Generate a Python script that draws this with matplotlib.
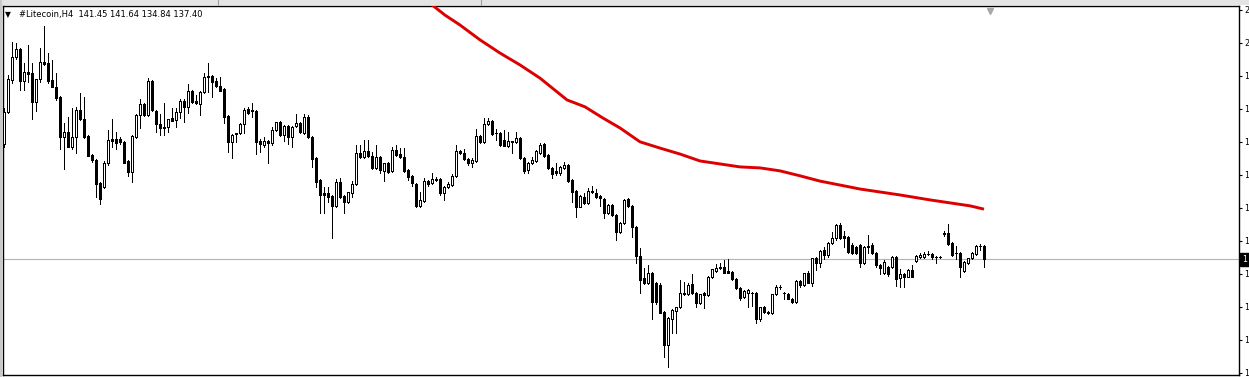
import matplotlib
matplotlib.use("Agg")
import matplotlib.pyplot as plt
import numpy as np
from matplotlib.patches import Rectangle

# H4 candles (oldest first)
opens = [
    172.2, 182.0, 191.6, 198.5, 200.9, 191.4, 194.0, 193.7, 185.1, 191.8,
    197.0, 196.7, 191.6, 189.4, 186.4, 174.3, 175.8, 171.4, 174.5, 182.5,
    179.8, 174.6, 168.9, 167.4, 160.3, 159.3, 166.6, 173.8, 173.8, 173.9,
    172.8, 167.0, 163.9, 174.5, 181.0, 184.4, 181.0, 191.3, 182.3, 178.3,
    177.5, 177.3, 180.0, 179.5, 182.0, 185.4, 183.4, 188.3, 185.3, 184.4,
    188.1, 192.4, 192.8, 191.4, 189.8, 188.8, 180.7, 172.9, 175.2, 175.5,
    178.3, 182.7,
    182.4, 182.3, 173.0, 171.9, 173.2, 172.4, 176.5, 178.8, 175.0, 177.7,
    174.3, 177.7, 178.7, 175.7, 180.5, 174.3, 167.9, 161.3, 157.5, 157.3,
    156.5, 153.5, 160.6, 156.5, 154.8, 157.3, 160.1, 169.4, 168.4, 170.1,
    168.6, 164.9, 168.4, 164.2, 166.4, 164.2, 170.4, 169.2, 168.2, 164.4,
    162.5, 160.1, 153.5, 155.1, 161.0, 160.3, 161.6, 161.6, 157.3, 159.1,
    159.8, 162.5, 170.2, 169.6, 167.8, 166.6, 167.2, 174.7, 172.7, 178.3,
    179.3, 175.7,
    175.5, 173.5, 171.6, 173.0, 172.7, 174.0, 167.9, 164.4, 166.6, 167.2,
    169.6, 172.2, 168.9, 165.1, 164.1, 163.4, 164.9, 165.9, 161.3, 158.1,
    153.3, 156.3, 154.3, 157.9, 157.5, 156.5, 155.6, 151.2, 153.8, 150.7,
    145.7, 148.4, 155.5, 153.5, 147.2, 138.3, 131.5, 130.2, 133.1, 130.0,
    129.5, 121.4, 111.3, 119.1, 121.7, 122.7, 127.2, 126.7, 129.7, 127.2,
    124.2, 127.0, 126.5, 132.0, 133.9, 135.1, 134.9, 133.9, 133.6, 131.3,
    128.5, 125.8, 127.2,
    127.0, 127.0, 119.1, 122.9, 121.4, 120.9, 126.7, 128.8, 127.1, 126.7,
    125.3, 124.3, 130.7, 129.5, 133.3, 130.2, 137.6, 136.1, 140.1, 138.6,
    142.3, 143.7, 147.7, 144.4, 144.2, 141.6, 141.1, 141.6, 136.1, 141.1,
    141.6, 139.3, 135.6, 133.1, 135.1, 135.1, 138.1, 131.5, 132.8, 132.0,
    134.1, 136.8, 137.9, 137.9, 138.9, 138.8, 138.1, 138.1, 145.2, 145.2,
    142.3, 139.3, 139.1, 133.8, 136.3, 137.6, 138.9, 141.4, 141.45,
]
highs = [
    183.1, 193.2, 203.3, 202.8, 201.3, 196.7, 202.2, 196.7, 191.9, 201.2,
    208.0, 199.7, 197.7, 193.7, 186.8, 178.5, 180.3, 183.0, 183.6, 187.8,
    186.6, 175.0, 169.2, 167.7, 160.6, 167.0, 176.5, 179.7, 176.0, 174.3,
    173.2, 167.3, 175.0, 181.3, 185.8, 184.8, 192.1, 191.7, 182.6, 181.2,
    184.6, 179.9, 183.0, 183.0, 185.8, 185.8, 190.4, 188.6, 187.1, 188.4,
    193.7, 196.9, 193.1, 192.1, 192.6, 189.2, 181.0, 175.3, 175.6, 178.6,
    183.0, 183.4,
    184.6, 182.6, 173.7, 174.3, 173.5, 177.3, 179.0, 179.1, 178.0, 178.0,
    177.8, 181.3, 179.0, 181.3, 181.0, 174.6, 168.2, 161.6, 159.1, 159.1,
    156.8, 161.5, 161.8, 156.8, 157.8, 161.0, 171.9, 171.9, 173.5, 173.5,
    169.9, 171.9, 168.7, 166.6, 166.7, 171.4, 171.9, 170.9, 170.9, 164.7,
    162.8, 160.4, 157.8, 161.8, 161.3, 163.6, 162.3, 161.9, 159.6, 160.8,
    163.2, 171.9, 170.5, 170.7, 168.1, 167.9, 176.7, 175.0, 180.0, 180.0,
    179.6, 176.7,
    175.8, 176.5, 176.0, 173.3, 176.0, 174.3, 168.2, 166.8, 168.4, 170.5,
    172.4, 172.5, 169.2, 165.4, 166.4, 165.6, 166.9, 166.2, 161.6, 158.4,
    156.8, 157.3, 158.8, 159.5, 158.5, 156.8, 155.9, 154.0, 154.1, 151.0,
    148.7, 155.5, 155.8, 153.8, 147.5, 140.6, 134.6, 135.6, 133.4, 130.5,
    130.2, 121.7, 119.7, 122.2, 122.9, 131.0, 130.5, 130.2, 132.9, 127.5,
    126.9, 127.3, 132.2, 134.5, 135.9, 136.3, 137.1, 137.3, 133.9, 131.6,
    128.8, 128.1, 128.3,
    127.5, 127.3, 122.9, 123.2, 121.7, 126.9, 129.5, 129.5, 127.4, 127.0,
    125.6, 130.9, 131.0, 133.3, 133.9, 137.8, 137.9, 140.2, 141.1, 142.6,
    145.5, 147.9, 148.2, 146.0, 144.5, 142.1, 141.4, 141.9, 141.4, 144.7,
    142.1, 139.6, 135.9, 137.1, 135.4, 138.3, 138.4, 134.3, 133.1, 134.3,
    135.6, 138.5, 139.3, 139.6, 139.9, 139.3, 138.4, 138.4, 145.9, 148.0,
    142.6, 141.3, 139.4, 136.8, 137.8, 139.4, 141.6, 141.9, 141.64,
]
lows = [
    171.4, 181.5, 190.8, 198.0, 188.6, 188.6, 191.1, 179.7, 182.3, 191.0,
    196.2, 190.6, 189.4, 185.6, 170.6, 164.6, 171.2, 170.8, 169.4, 179.6,
    174.2, 168.5, 166.9, 156.3, 154.0, 158.8, 166.0, 171.4, 170.6, 172.2,
    166.4, 162.5, 160.8, 174.0, 177.0, 180.7, 180.6, 182.3, 176.0, 175.0,
    175.0, 176.0, 179.2, 177.3, 180.0, 179.0, 181.7, 184.8, 184.3, 181.0,
    187.6, 188.1, 186.6, 189.6, 188.2, 178.5, 169.9, 168.1, 172.7, 175.2,
    175.5, 181.3,
    180.5, 169.2, 169.9, 171.4, 166.6, 172.0, 176.2, 174.7, 173.2, 172.2,
    171.4, 177.4, 175.7, 175.4, 174.0, 165.2, 159.1, 151.4, 151.4, 154.8,
    143.9, 153.2, 156.0, 151.4, 154.5, 156.3, 159.8, 168.0, 168.1, 168.2,
    164.6, 164.6, 163.6, 161.1, 163.6, 163.9, 168.6, 168.0, 163.9, 161.3,
    159.5, 153.0, 153.2, 154.8, 159.5, 160.0, 160.9, 156.8, 155.3, 158.8,
    159.5, 162.2, 169.1, 167.3, 165.9, 165.4, 166.9, 172.4, 172.4, 178.0,
    175.0, 173.5,
    171.6, 171.5, 171.3, 169.4, 172.4, 167.6, 163.4, 163.4, 166.3, 166.9,
    169.3, 168.3, 164.8, 161.8, 162.9, 162.9, 164.6, 160.8, 154.8, 150.2,
    153.0, 154.0, 154.0, 157.5, 156.0, 153.5, 149.7, 150.9, 150.4, 143.1,
    145.4, 148.1, 153.3, 144.2, 136.1, 127.2, 129.8, 129.9, 119.1, 123.8,
    120.9, 107.8, 104.8, 114.9, 114.9, 122.4, 126.5, 126.4, 126.7, 122.7,
    123.9, 122.4, 126.2, 131.7, 133.6, 134.3, 133.2, 133.2, 131.1, 128.3,
    125.0, 125.5, 122.9,
    123.0, 118.1, 118.7, 120.9, 120.6, 120.6, 126.4, 128.2, 125.2, 125.2,
    124.0, 124.0, 129.0, 129.2, 130.0, 129.2, 134.1, 135.1, 137.3, 138.1,
    142.0, 143.2, 143.4, 141.1, 139.1, 139.0, 138.8, 134.9, 135.8, 139.3,
    138.8, 135.1, 132.7, 132.8, 132.2, 134.8, 129.2, 128.8, 128.8, 131.8,
    131.8, 136.5, 137.6, 137.6, 138.6, 137.3, 136.1, 137.8, 144.4, 141.7,
    138.3, 137.3, 132.0, 133.5, 136.0, 137.3, 138.6, 140.0, 134.84,
]
closes = [
    182.0, 191.8, 198.5, 200.9, 191.4, 194.0, 193.4, 185.1, 191.8, 197.2,
    196.4, 191.3, 189.6, 186.1, 174.3, 175.8, 171.4, 174.5, 182.5, 179.8,
    174.5, 168.7, 167.4, 160.1, 155.6, 166.6, 173.5, 173.3, 172.4, 172.8,
    166.6, 163.9, 174.7, 181.0, 184.4, 181.0, 191.3, 182.5, 178.3, 177.0,
    177.0, 179.7, 179.3, 182.0, 185.4, 183.4, 188.3, 185.1, 184.6, 188.1,
    192.4, 192.8, 191.1, 189.8, 188.4, 180.5, 172.9, 175.0, 175.5, 178.3,
    182.5, 181.5,
    182.3, 172.9, 172.2, 173.2, 172.4, 176.5, 178.8, 175.0, 177.8, 174.3,
    177.5, 178.7, 176.0, 180.5, 174.3, 167.6, 160.8, 156.8, 156.8, 156.3,
    153.5, 160.6, 156.3, 154.8, 157.6, 160.1, 169.4, 168.4, 170.1, 168.6,
    164.9, 168.4, 164.4, 166.4, 163.9, 170.4, 168.9, 168.2, 164.2, 162.3,
    160.3, 153.5, 155.3, 161.0, 160.1, 161.6, 161.3, 157.3, 159.3, 160.1,
    162.5, 170.2, 169.4, 167.6, 166.6, 167.4, 174.7, 172.7, 178.3, 179.3,
    175.3, 175.6,
    171.9, 171.6, 173.3, 172.9, 174.0, 167.9, 164.1, 166.6, 167.4, 170.2,
    172.0, 168.6, 165.1, 163.2, 163.4, 165.4, 165.9, 161.0, 157.8, 153.3,
    156.5, 154.3, 158.1, 157.8, 156.3, 155.8, 151.2, 153.8, 150.7, 145.7,
    148.4, 155.3, 153.5, 147.2, 138.3, 131.0, 130.0, 133.1, 124.3, 124.5,
    121.1, 111.3, 119.4, 121.9, 122.7, 127.2, 126.7, 129.5, 127.0, 124.2,
    126.8, 126.5, 132.0, 134.3, 134.6, 134.6, 133.3, 133.3, 131.3, 128.5,
    125.5, 127.8, 128.0,
    127.1, 119.1, 122.7, 121.4, 120.9, 126.7, 128.8, 128.9, 127.0, 125.3,
    124.3, 130.7, 129.5, 133.1, 130.2, 137.6, 136.1, 139.9, 138.6, 142.3,
    143.7, 147.7, 143.7, 143.7, 139.4, 139.3, 139.1, 136.1, 141.1, 141.2,
    139.1, 135.6, 134.6, 136.6, 132.8, 137.9, 131.3, 132.8, 131.8, 134.1,
    132.0, 138.3, 138.6, 138.9, 138.8, 138.1, 138.0, 138.0, 145.1, 141.9,
    138.6, 139.2, 135.1, 136.6, 137.6, 139.1, 141.3, 141.3, 137.40,
]

# moving average (red), sampled at bar positions
ma_bar = [107, 110.25, 114, 119, 124, 129, 134, 140.75, 145.25, 149.75, 154,
          159, 164, 169, 174, 179, 184, 189, 194, 199, 204, 209, 214, 219,
          224, 231.5, 236.5, 241.5, 245]
ma_val = [214.4, 211.3, 208.3, 203.8, 199.8, 196.2, 192.2, 185.6, 183.5, 180.1,
          177.1, 172.9, 171.0, 169.2, 167.1, 166.2, 165.3, 165.0, 164.1, 162.6,
          161.0, 159.8, 158.6, 157.7, 156.8, 155.3, 154.4, 153.5, 152.5]

# price scale; only the first digit of each label is visible in the window
price_ticks = [212.85, 202.85, 192.85, 182.85, 172.85, 162.85, 152.85,
               142.85, 132.85, 122.85, 112.85, 102.85]
tick_labels = ["2", "2", "1", "1", "1", "1", "1", "1", "1", "1", "1", "1"]
last_price = 137.40
last_label = "1"
title = "#Litecoin,H4  141.45 141.64 134.84 137.40"

W, H = 1249, 377
fig = plt.figure(figsize=(W / 100, H / 100), dpi=100)
fig.patch.set_facecolor("white")

# window strip on top
fig.patches.append(Rectangle((0, 1 - 5 / H), 1, 5 / H, transform=fig.transFigure,
                             facecolor="#e4e4e4", edgecolor="none"))
fig.patches.append(Rectangle((0, 0), 2 / W, 1, transform=fig.transFigure,
                             facecolor="#c8c8c8", edgecolor="none"))
for sx in [218, 481]:
    fig.add_artist(plt.Line2D([sx / W, sx / W], [1 - 5 / H, 1], color="#a0a0a0", lw=0.8))

ax = fig.add_axes([3 / W, 2 / H, 1236 / W, 369 / H])
ax.set_facecolor("white")

n = len(opens)
x = np.arange(n)
o = np.array(opens)
c = np.array(closes)
hi = np.array(highs)
lo = np.array(lows)

ax.axhline(last_price, color="#b4b4b4", lw=0.8, zorder=1)
ax.vlines(x, lo, hi, color="black", lw=0.7, antialiased=False, zorder=2)
bull = c >= o
ax.bar(x[bull], c[bull] - o[bull], bottom=o[bull], width=0.62,
       facecolor="white", edgecolor="black", linewidth=0.7, antialiased=False, zorder=3)
ax.bar(x[~bull], o[~bull] - c[~bull], bottom=c[~bull], width=0.62,
       facecolor="black", edgecolor="black", linewidth=0.7, antialiased=False, zorder=3)

ax.plot(ma_bar, ma_val, color="#dc0000", lw=2.1, zorder=4, solid_capstyle="butt")

ax.set_xlim(-0.25, 308.75)
ax.set_ylim(102.24, 214.06)
ax.set_xticks([])
ax.yaxis.tick_right()
ax.set_yticks(price_ticks)
ax.set_yticklabels(tick_labels)
ax.tick_params(axis="y", direction="out", length=2.5, width=0.8, pad=1.5,
               labelsize=5.8, colors="black")
for s in ax.spines.values():
    s.set_color("black")
    s.set_linewidth(1.0)

# chart shift marker
ax.plot([246.5], [212.6], marker="v", color="#a8a8a8", markersize=5, clip_on=False, zorder=5)

fig.text(8 / W, 1 - 15 / H, "\u25bc", fontsize=5.5, va="center", ha="center",
         family="DejaVu Sans")
fig.text(19 / W, 1 - 15 / H, title, fontsize=6.0, va="center", ha="left",
         family="DejaVu Sans")

# current price box
fig.text(1242.5 / W, 1 - 259.5 / H, last_label, fontsize=5.8, va="center",
         ha="left", color="white",
         bbox=dict(boxstyle="square,pad=0.25", facecolor="black", edgecolor="black"))

fig.savefig("out.png", dpi=100)
